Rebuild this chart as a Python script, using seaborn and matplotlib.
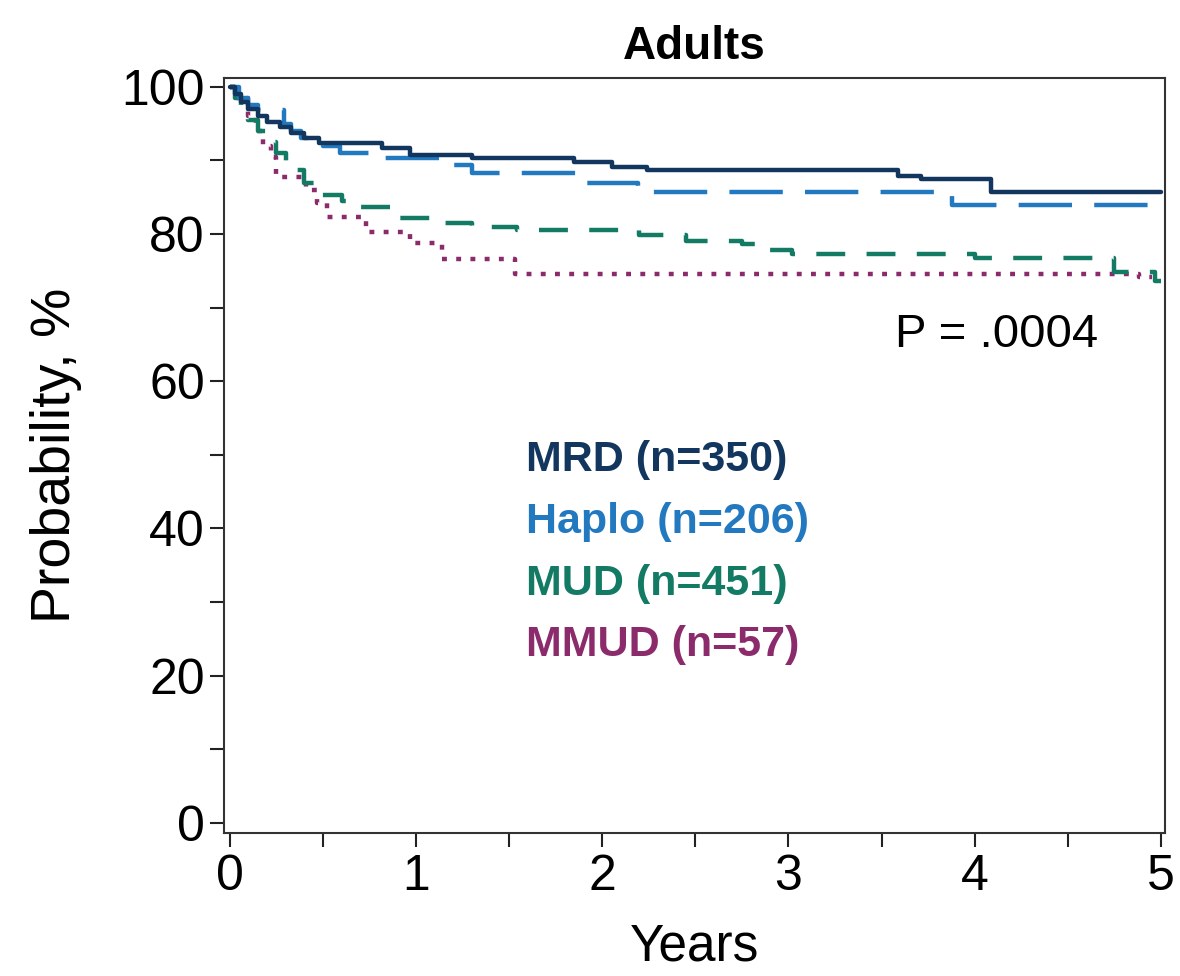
import pandas as pd
import numpy as np
import seaborn as sns
import matplotlib.pyplot as plt

# Kaplan-Meier step points (years, probability %)
mrd_years = [0, 0.03, 0.06, 0.1, 0.15, 0.2, 0.27, 0.33, 0.4, 0.48, 0.82, 0.97, 1.3, 1.85, 2.05, 2.24, 3.59, 3.71, 4.09, 5.0]
mrd_prob = [100, 99, 98, 97, 96, 95.2, 94.5, 93.8, 93, 92.4, 91.7, 90.8, 90.3, 89.8, 89.1, 88.7, 87.9, 87.5, 85.7, 85.7]

haplo_years = [0, 0.05, 0.1, 0.15, 0.29, 0.33, 0.38, 0.44, 0.5, 0.59, 0.82, 1.18, 1.3, 1.87, 2.19, 3.88, 5.0]
haplo_prob = [100, 98.5, 97.5, 96.8, 95, 94, 93, 92.3, 92, 91.0, 90.3, 89.4, 88.3, 87.0, 85.7, 84.0, 84.0]

mud_years = [0, 0.03, 0.06, 0.1, 0.15, 0.2, 0.25, 0.3, 0.34, 0.4, 0.48, 0.6, 0.68, 0.86, 1.09, 1.3, 1.54, 2.2, 2.45, 2.75, 2.84, 3.02, 4.0, 4.75, 4.97, 5.0]
mud_prob = [100, 98.5, 97, 95.5, 94, 92.5, 91, 89.8, 88.7, 87, 85.3, 84.5, 83.7, 82.2, 81.5, 81.0, 80.6, 79.9, 79.0, 78.7, 77.9, 77.3, 76.8, 74.9, 73.6, 73.6]

mmud_years = [0, 0.04, 0.1, 0.14, 0.18, 0.22, 0.25, 0.41, 0.47, 0.52, 0.73, 0.97, 1.14, 1.53, 4.88, 4.95]
mmud_prob = [100, 98.5, 96, 94, 92, 90.5, 87.8, 86.0, 84.2, 82.3, 80.3, 78.8, 76.6, 74.6, 74.2, 74.2]

groups = ["MRD", "Haplo", "MUD", "MMUD"]
group_n = [350, 206, 451, 57]
colors = {"MRD": "#12365e", "Haplo": "#2379c0", "MUD": "#137a64", "MMUD": "#8c2b6c"}
dashes = {"MRD": "", "Haplo": (12, 5), "MUD": (6.5, 4.8), "MMUD": (1.1, 2.1)}

x_ticks = [0, 0.5, 1, 1.5, 2, 2.5, 3, 3.5, 4, 4.5, 5]
x_labels = ["0", "", "1", "", "2", "", "3", "", "4", "", "5"]
y_ticks = [0, 10, 20, 30, 40, 50, 60, 70, 80, 90, 100]
y_labels = ["0", "", "20", "", "40", "", "60", "", "80", "", "100"]

frames = []
for g, xs, ys in zip(groups, [mrd_years, haplo_years, mud_years, mmud_years],
                     [mrd_prob, haplo_prob, mud_prob, mmud_prob]):
    frames.append(pd.DataFrame({"years": xs, "prob": ys, "group": g}))
df = pd.concat(frames, ignore_index=True)

sns.set_style("ticks")
plt.rcParams["font.family"] = ["Liberation Sans", "DejaVu Sans"]
plt.rcParams["text.color"] = "black"
plt.rcParams["axes.labelcolor"] = "black"
plt.rcParams["xtick.color"] = "black"
plt.rcParams["ytick.color"] = "black"

fig = plt.figure(figsize=(11.8, 9.76), dpi=100)
ax = fig.add_axes([0.19, 0.1465, 0.797, 0.7735])

sns.lineplot(data=df, x="years", y="prob", hue="group", style="group",
             palette=colors, dashes=dashes, hue_order=groups[::-1],
             estimator=None, sort=False, drawstyle="steps-post",
             linewidth=3.2, legend=False, ax=ax)

ax.set_xlim(-0.03, 5.02)
ax.set_ylim(-1.4, 101.2)
ax.set_xticks(x_ticks)
ax.set_xticklabels(x_labels)
ax.set_yticks(y_ticks)
ax.set_yticklabels(y_labels)
ax.tick_params(axis="both", length=10, width=1.5, color="#222222", labelsize=36)
ax.tick_params(axis="x", pad=5)
ax.tick_params(axis="y", pad=4)
for s in ax.spines.values():
    s.set_visible(True)
    s.set_linewidth(1.5)
    s.set_color("#333333")

ax.set_xlabel("Years", fontsize=37, labelpad=16)
ax.set_ylabel("Probability, %", fontsize=40, labelpad=28)
ax.set_title("Adults", fontsize=33, fontweight="bold", pad=14)

# group labels in their line colours
for i, (g, n) in enumerate(zip(groups, group_n)):
    ax.text(1.59, 49.3 - i * 8.4, f"{g} (n={n})", color=colors[g], fontsize=31,
            fontweight="bold", va="center", ha="left")

ax.text(3.57, 66.3, "P = .0004", fontsize=34, va="center", ha="left")

fig.savefig("out.png", dpi=100)
